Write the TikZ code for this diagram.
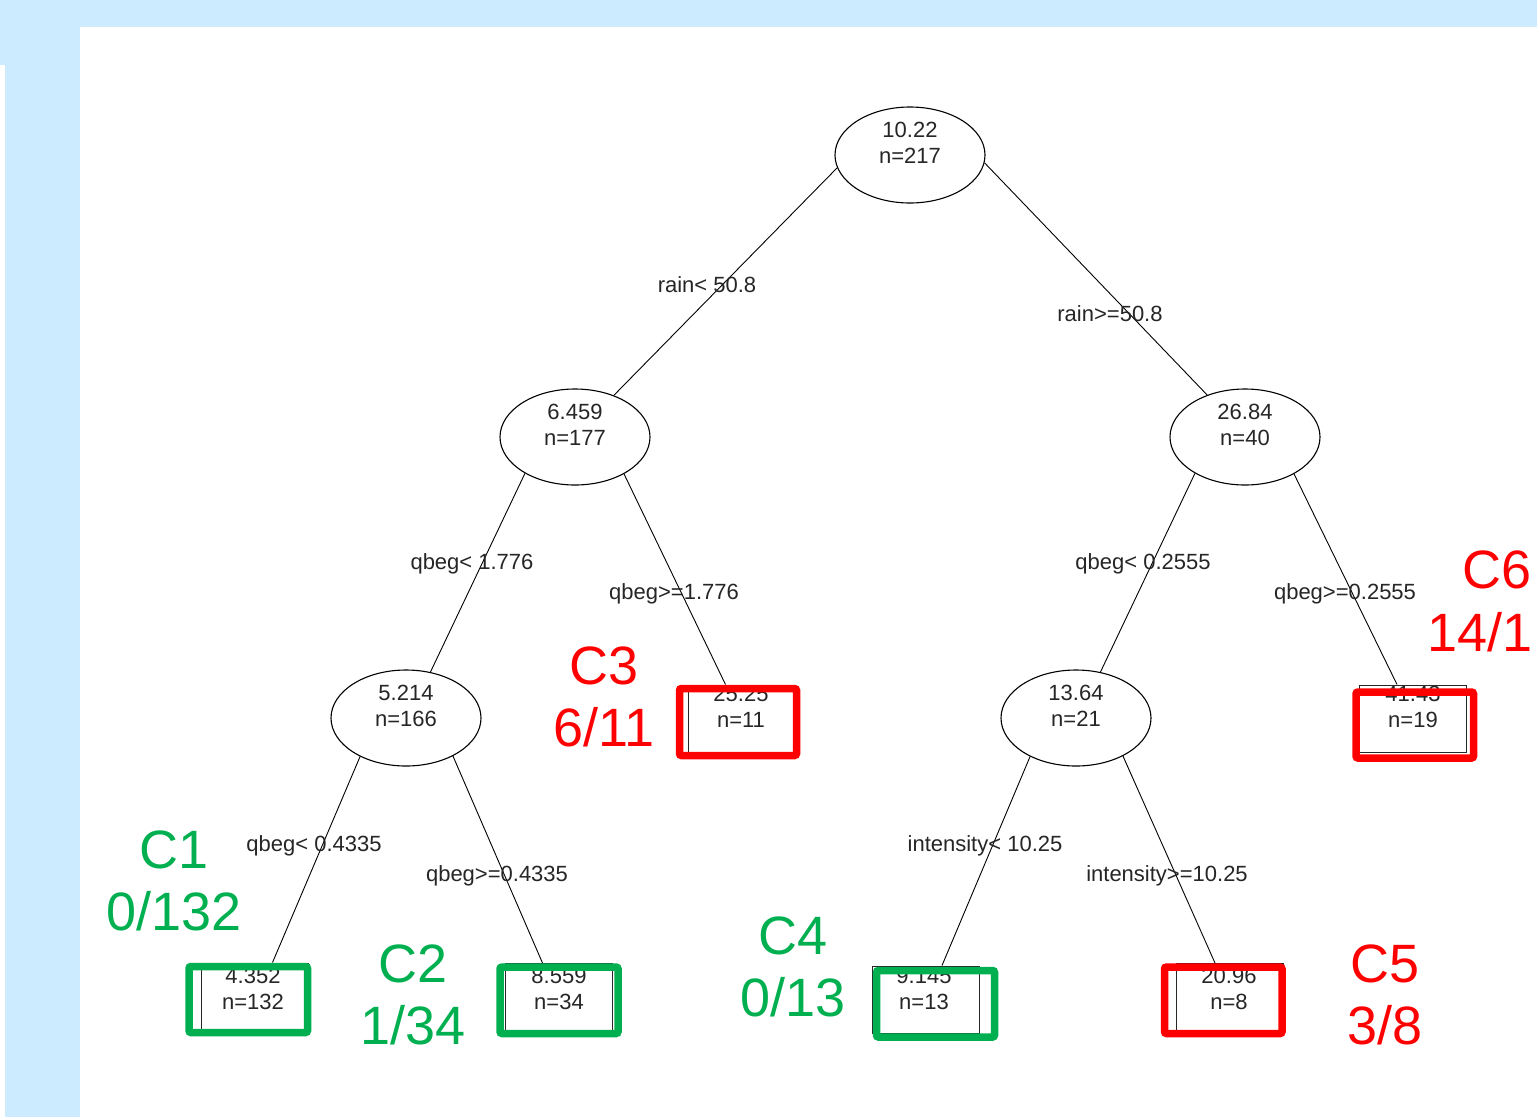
\documentclass[tikz,border=0pt]{standalone}
\usepackage{fontspec}
\setmainfont{Liberation Sans}
\usetikzlibrary{shapes.geometric,calc}
\definecolor{bgblue}{RGB}{204,235,255}
\definecolor{cgreen}{RGB}{0,176,80}
\definecolor{cred}{RGB}{255,0,0}
\begin{document}
\begin{tikzpicture}[x=1pt,y=-1pt,
  split/.style={draw=black, line width=1.1pt, ellipse, minimum width=150pt, minimum height=96pt, inner sep=0pt},
  leafbox/.style={draw=black!85, line width=1pt, rectangle, minimum width=107pt, minimum height=67pt, inner sep=0pt},
  small/.style={font=\fontsize{22}{26}\selectfont, align=center, inner sep=0pt, text=black!85},
  big/.style={font=\fontsize{54}{62}\selectfont, align=center, inner sep=0pt},
  conn/.style={draw=black, line width=0.9pt},
  gbox/.style={draw=cgreen, line width=7.5pt, rounded corners=2pt},
  rbox/.style={draw=cred, line width=7.5pt, rounded corners=2pt}]
% background
\fill[bgblue] (0,0) rectangle (1537,1117);
\fill[white] (80,27) rectangle (1537,1117);
\fill[white] (0,65) rectangle (5,1117);
\useasboundingbox (0,0) rectangle (1537,1117);
\clip (0,0) rectangle (1537,1117);

% split nodes
\node[split] (r)  at (910,155) {};
\node[split] (n1) at (575,437) {};
\node[split] (n2) at (1245,437) {};
\node[split] (n3) at (406,718) {};
\node[split] (n4) at (1076,718) {};
\node[small] (rt)  at (910,143) {10.22\\n=217};
\node[small] (n1t) at (575,425) {6.459\\n=177};
\node[small] (n2t) at (1245,425) {26.84\\n=40};
\node[small] (n3t) at (406,706) {5.214\\n=166};
\node[small] (n4t) at (1076,706) {13.64\\n=21};

% leaves
\node[leafbox] (L1) at (254.5,996.5) {};
\node[leafbox] (L2) at (558.5,997) {};
\node[leafbox] (L3) at (741.5,718.5) {};
\node[leafbox] (L4) at (926,999.5) {};
\node[leafbox] (L5) at (1230,997) {};
\node[leafbox] (L6) at (1413,718.5) {};
\node[small] (L1t) at (253,989) {4.352\\n=132};
\node[small] (L2t) at (559,989) {8.559\\n=34};
\node[small] (L3t) at (741,707) {25.25\\n=11};
\node[small] (L4t) at (924,989) {9.145\\n=13};
\node[small] (L5t) at (1229,989) {20.96\\n=8};
\node[small] (L6t) at (1413,707) {41.43\\n=19};

% connectors
\draw[conn] (r.190) -- (n1.47);
\draw[conn] (r.354) -- (n2.132);
\draw[conn] (n1.216) -- (n3.62);
\draw[conn] (n1.323) -- ($(L3.north)+(-16,0)$);
\draw[conn] (n3.220) -- ($(L1.north)+(18,0)$);
\draw[conn] (n3.321) -- ($(L2.north)+(-16,0)$);
\draw[conn] (n2.216) -- (n4.62);
\draw[conn] (n2.323) -- ($(L6.north)+(-16,0)$);
\draw[conn] (n4.220) -- ($(L4.north)+(16,0)$);
\draw[conn] (n4.321) -- ($(L5.north)+(-15,0)$);

% edge labels
\node[small] (e1)  at (707,285)  {rain< 50.8};
\node[small] (e2)  at (1110,314) {rain>=50.8};
\node[small] (e3)  at (472,564)  {qbeg< 1.776};
\node[small] (e4)  at (674,594)  {qbeg>=1.776};
\node[small] (e5)  at (1143,564) {qbeg< 0.2555};
\node[small] (e6)  at (1345,594) {qbeg>=0.2555};
\node[small] (e7)  at (314,846)  {qbeg< 0.4335};
\node[small] (e8)  at (497,876)  {qbeg>=0.4335};
\node[small] (e9)  at (985,846)  {intensity< 10.25};
\node[small] (e10) at (1167,876) {intensity>=10.25};

% highlight boxes
\draw[gbox] (189,966.5) rectangle (307.5,1032.5);
\draw[gbox] (500,967) rectangle (618,1033.5);
\draw[rbox] (679.5,688.5) rectangle (796.5,755.5);
\draw[gbox] (876.5,970.5) rectangle (994.5,1037);
\draw[rbox] (1164.5,967) rectangle (1282,1033.5);
\draw[rbox] (1356,692) rectangle (1473.5,758);

% annotations
\node[big, text=cgreen] (c1) at (174,881) {C1\\0/132};
\node[big, text=cgreen] (c2) at (413,994.5) {C2\\1/34};
\node[big, text=cred]   (c3) at (604,696.5) {C3\\6/11};
\node[big, text=cgreen] (c4) at (793,966.5) {C4\\0/13};
\node[big, text=cred]   (c5) at (1385,994.5) {C5\\3/8};
\node[big, text=cred, anchor=west] (c6a) at (1462,570) {C6};
\node[big, text=cred, anchor=west] (c6b) at (1427,632) {14/1};
\end{tikzpicture}
\end{document}
